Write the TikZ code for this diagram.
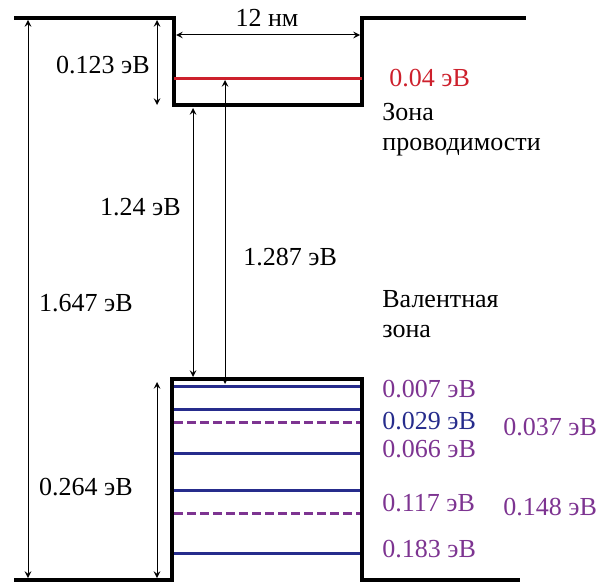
\documentclass[tikz,border=0pt]{standalone}
\usepackage{fontspec}
\setmainfont{Liberation Serif}
\definecolor{lvlred}{RGB}{205,32,44}
\definecolor{lvlblue}{RGB}{38,44,140}
\definecolor{lvlpurple}{RGB}{125,52,145}
\begin{document}
\begin{tikzpicture}[x=0.5pt, y=-0.5pt, >=stealth,
        font=\fontsize{13}{15}\selectfont,
        wall/.style={line width=2pt, line join=miter},
        dim/.style={<->, line width=0.5pt},
        lvl/.style={line width=1.5pt, lvlblue},
        hole/.style={line width=1.5pt, lvlpurple, dash pattern=on 4.5pt off 2pt},
        lbl/.style={inner sep=0pt, anchor=west}]
        \useasboundingbox (0,0) rectangle (609,583);
        \coordinate (tl) at (14,18);   \coordinate (cw1) at (174,18);
        \coordinate (cb1) at (174,105); \coordinate (cb2) at (362,105);
        \coordinate (cw2) at (362,18);  \coordinate (tr) at (526,18);
        \coordinate (bl) at (14,580);  \coordinate (vb1) at (172,580);
        \coordinate (vt1) at (172,379); \coordinate (vt2) at (362,379);
        \coordinate (vb2) at (362,580); \coordinate (br) at (520,580);
        \draw[wall] (tl) -- (cw1) -- (cb1) -- (cb2) -- (cw2) -- (tr);
        \draw[wall] (bl) -- (vb1) -- (vt1) -- (vt2) -- (vb2) -- (br);
        \coordinate (el1) at (174,79); \coordinate (el2) at (362,79);
        \draw[line width=1.5pt, lvlred] (el1) -- (el2);
        \foreach \y [count=\i] in {386,409,453,490,553}
            \draw[lvl] (174,\y) coordinate (h\i l) -- (360,\y) coordinate (h\i r);
        \foreach \y [count=\i] in {422,513}
            \draw[hole] (174,\y) coordinate (lh\i l) -- (360,\y) coordinate (lh\i r);
        \coordinate (wa) at (176,35); \coordinate (wb) at (360,35);
        \draw[dim] (wa) -- (wb);
        \node[inner sep=0pt] (width) at (267,18) {12 нм};
        \coordinate (da) at (157,20); \coordinate (db) at (157,105);
        \draw[dim] (da) -- (db);
        \node[lbl, anchor=east] (depthc) at (150,65) {0.123 эВ};
        \coordinate (ga) at (28,20); \coordinate (gb) at (28,578);
        \draw[dim] (ga) -- (gb);
        \node[lbl, anchor=east] (gapbulk) at (133,303) {1.647 эВ};
        \coordinate (qa) at (193,108); \coordinate (qb) at (193,377);
        \draw[dim] (qa) -- (qb);
        \node[lbl, anchor=east] (gapqw) at (181,207) {1.24 эВ};
        \coordinate (ta) at (225,80); \coordinate (tb) at (225,384);
        \draw[dim] (ta) -- (tb);
        \node[lbl] (trans) at (243,257) {1.287 эВ};
        \coordinate (va) at (157,382); \coordinate (vb) at (157,578);
        \draw[dim] (va) -- (vb);
        \node[lbl, anchor=east] (depthv) at (133,487) {0.264 эВ};
        \node[lbl, lvlred] (e1) at (389,78) {0.04 эВ};
        \node[lbl, align=left, anchor=north west] (cband) at (382,103) {Зона\\проводимости};
        \node[lbl, align=left, anchor=north west] (vband) at (382,290) {Валентная\\зона};
        \node[lbl, lvlpurple] (hh1) at (382,389) {0.007 эВ};
        \node[lbl, lvlblue] (lh1) at (382,421) {0.029 эВ};
        \node[lbl, lvlpurple] (hh2) at (382,449) {0.066 эВ};
        \node[lbl, lvlpurple] (hh3) at (382,503) {0.117 эВ};
        \node[lbl, lvlpurple] (hh4) at (382,549) {0.183 эВ};
        \node[lbl, lvlpurple] (lh2) at (503,427) {0.037 эВ};
        \node[lbl, lvlpurple] (lh3) at (503,507) {0.148 эВ};
    \end{tikzpicture}
\end{document}
